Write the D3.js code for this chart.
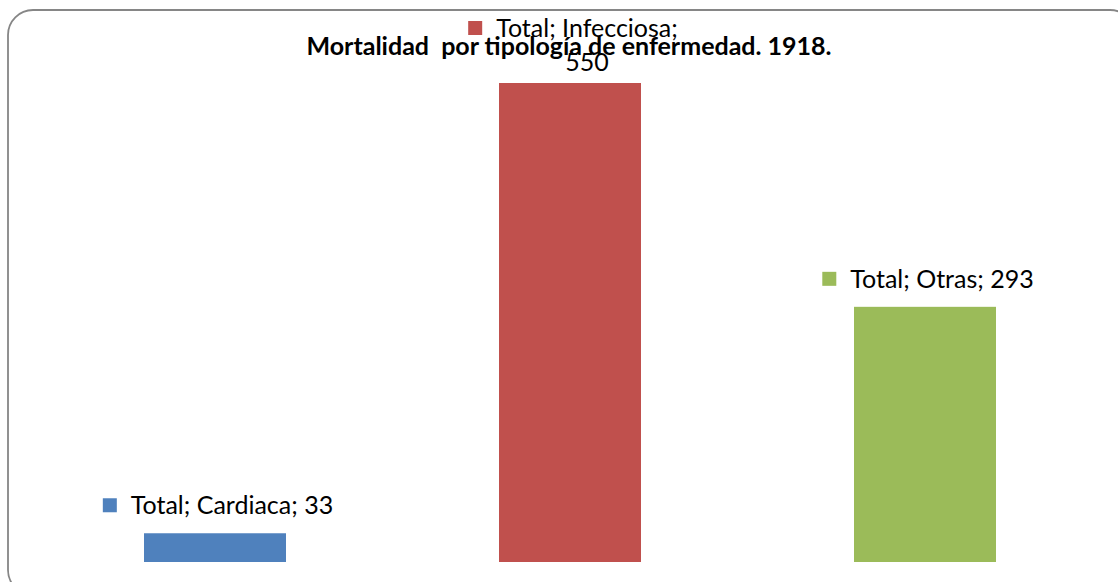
<!DOCTYPE html>
<html>
<head>
<meta charset="utf-8">
<script src="https://cdn.jsdelivr.net/npm/d3@7/dist/d3.min.js"></script>
<style>
  html, body { margin: 0; padding: 0; background: #fff; }
  svg { display: block; }
</style>
</head>
<body>
<svg id="chart" width="1118" height="582"></svg>
<script>
// ---- data ----
const title = "Mortalidad  por tipología de enfermedad. 1918.";
const seriesName = "Total";
const categories = ["Cardiaca", "Infecciosa", "Otras"];
const values = [33, 550, 293];
const colors = ["#4F81BD", "#C0504D", "#9BBB59"];

// ---- layout ----
const svg = d3.select("#chart");
const plot = { left: 37.5, right: 1102.5, top: 83, bottom: 562 };
const labelFont = "Lato, 'Open Sans', sans-serif";
const labelSize = 25;

// frame
svg.append("rect")
  .attr("x", 8).attr("y", 10)
  .attr("width", 1127).attr("height", 585)
  .attr("rx", 25).attr("ry", 25)
  .attr("fill", "#fff")
  .attr("stroke", "#868686")
  .attr("stroke-width", 1.8);

const x = d3.scaleBand().domain(categories).range([plot.left, plot.right]).paddingInner(0.6).paddingOuter(0.3);
const y = d3.scaleLinear().domain([0, 550]).range([plot.bottom, plot.top]);

const data = categories.map((c, i) => ({ cat: c, value: values[i], color: colors[i] }));

svg.append("g").selectAll("rect").data(data).join("rect")
  .attr("x", d => x(d.cat))
  .attr("y", d => y(d.value))
  .attr("width", x.bandwidth())
  .attr("height", d => y(0) - y(d.value))
  .attr("fill", d => d.color);

// data labels
const lineH = 34;
const labels = svg.append("g").attr("font-family", labelFont).attr("font-size", labelSize).attr("fill", "#000");
data.forEach(d => {
  const full = `${seriesName}; ${d.cat}; ${d.value}`;
  const lines = d.value === d3.max(values) ? [`${seriesName}; ${d.cat};`, `${d.value}`] : [full];
  const cx = x(d.cat) + x.bandwidth() / 2;
  const top = y(d.value);
  const firstBase = Math.max(37, top - 19 - (lines.length - 1) * lineH);
  const g = labels.append("g");
  const t0 = g.append("text").attr("y", firstBase).text(lines[0]);
  const w0 = t0.node().getComputedTextLength();
  const keyW = 14, gap = 14;
  const total = keyW + gap + w0;
  const left = cx - total / 2 + 3;
  t0.attr("x", left + keyW + gap);
  g.append("rect")
    .attr("x", left).attr("y", firstBase - 16)
    .attr("width", keyW).attr("height", keyW)
    .attr("fill", d.color);
  for (let k = 1; k < lines.length; k++) {
    g.append("text")
      .attr("x", left + keyW + gap + w0 / 2)
      .attr("y", firstBase + k * lineH)
      .attr("text-anchor", "middle")
      .text(lines[k]);
  }
});

// title
svg.append("text")
  .attr("x", 569).attr("y", 55)
  .attr("text-anchor", "middle")
  .attr("font-family", labelFont)
  .attr("font-weight", "bold")
  .attr("font-size", 25)
  .attr("fill", "#000")
  .style("white-space", "pre")
  .text(title);
</script>
</body>
</html>
